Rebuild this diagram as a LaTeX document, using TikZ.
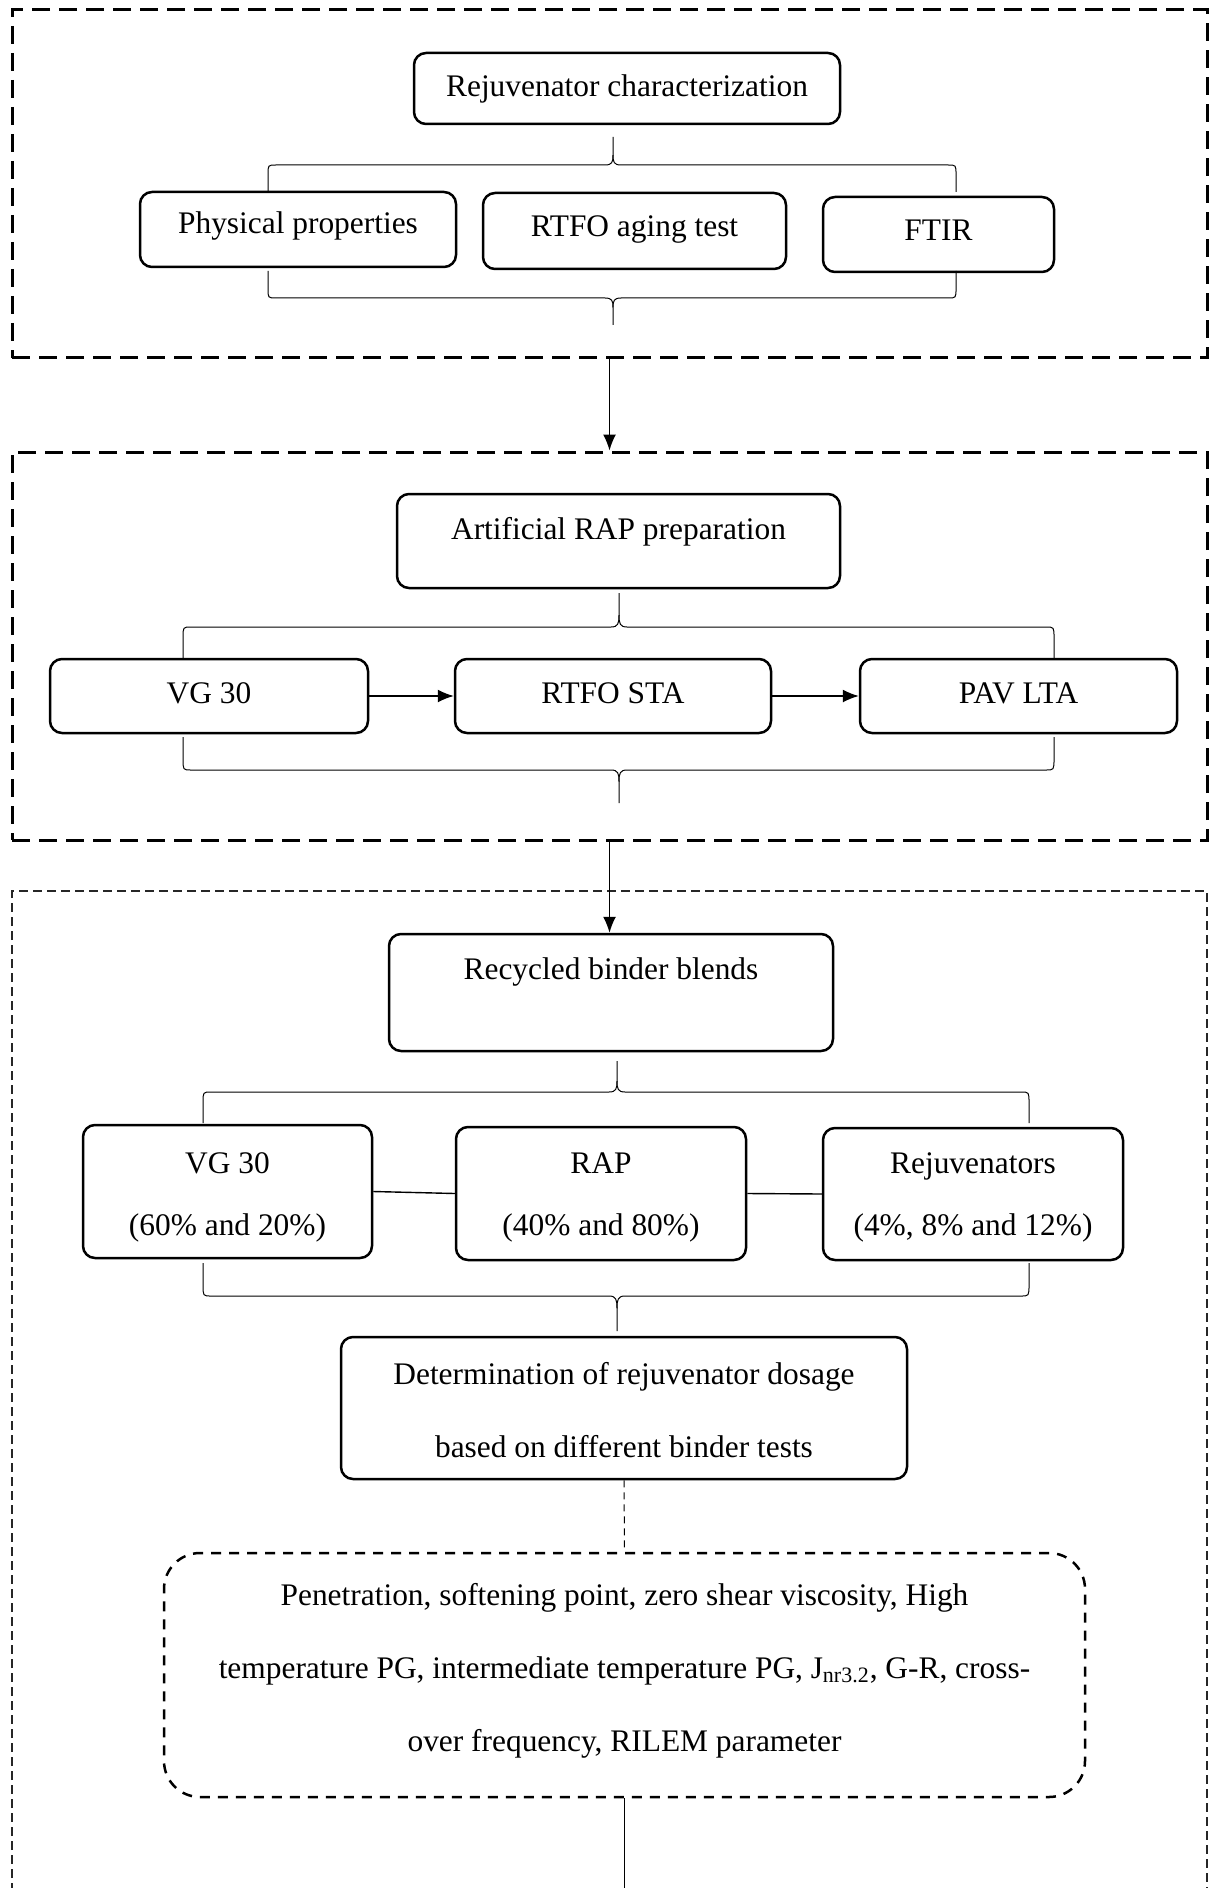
\documentclass[tikz,border=0pt]{standalone}
\usepackage{fontspec}
\setmainfont{Liberation Serif}
\usetikzlibrary{arrows.meta}
\newcommand\fsz{\fontsize{15.7}{19}\selectfont}
\newcommand\hbrace[6]{%
  \draw[brc] ({#1},{#4+(#5)}) -- ({#1},{#4+0.35*(#5)}) .. controls ({#1},{#4}) .. ({#1+8},{#4})
    -- ({#2-8},{#4}) .. controls ({#2-1},{#4}) and ({#2},{#4+0.1*(#6)}) .. ({#2},{#4+0.35*(#6)}) -- ({#2},{#4+(#6)});
  \draw[brc] ({#3},{#4+(#5)}) -- ({#3},{#4+0.35*(#5)}) .. controls ({#3},{#4}) .. ({#3-8},{#4})
    -- ({#2+8},{#4}) .. controls ({#2+1},{#4}) and ({#2},{#4+0.1*(#6)}) .. ({#2},{#4+0.35*(#6)});
}
\begin{document}
\begin{tikzpicture}[x=0.5pt,y=-0.5pt,
  box/.style={draw, rounded corners=6pt, line width=1.25pt, inner sep=0pt},
  grp/.style={draw, line width=1.5pt, dash pattern=on 9pt off 4.5pt, inner sep=0pt},
  txt/.style={inner sep=0pt, anchor=base, font=\fsz},
  brc/.style={line width=0.5pt},
  conn/.style={line width=0.7pt},
  arr/.style={line width=0.7pt, -{Latex[length=8pt,width=6.5pt]}}]
\useasboundingbox (0,0) rectangle (1209,1888);

% group frames
\node[grp, minimum width=597.5pt, minimum height=174pt] (g1) at (609.5,184) {};
\node[grp, minimum width=597.5pt, minimum height=194pt] (g2) at (609.5,646) {};
\draw[line width=0.6pt, black!85, dash pattern=on 4.5pt off 2.5pt] (12,1892) -- (12,891) -- (1207,891) -- (1207,1892);

% section 1
\node[box, minimum width=213pt, minimum height=35.5pt] (rc) at (627,88.5) {};
\node[txt] (rcT) at (627,97) {Rejuvenator characterization};
\node[box, minimum width=158pt, minimum height=37.5pt] (pp) at (298,229.5) {};
\node[txt] (ppT) at (298,234) {Physical properties};
\node[box, minimum width=151.5pt, minimum height=38pt] (rat) at (634.5,231) {};
\node[txt] (ratT) at (634.5,237) {RTFO aging test};
\node[box, minimum width=115.5pt, minimum height=37.5pt] (ftir) at (938.5,234.5) {};
\node[txt] (ftirT) at (938.5,241) {FTIR};
\hbrace{268}{613}{956}{165}{27}{-28}
\hbrace{268}{613}{956}{298}{-27}{27}

% section 2
\node[box, minimum width=221.5pt, minimum height=47pt] (arp) at (618.5,541) {};
\node[txt] (arpT) at (618.5,539) {Artificial RAP preparation};
\node[box, minimum width=159pt, minimum height=37pt] (vga) at (209,696) {};
\node[txt] (vgaT) at (209,703) {VG 30};
\node[box, minimum width=158pt, minimum height=37pt] (sta) at (613,696) {};
\node[txt] (staT) at (613,703) {RTFO STA};
\node[box, minimum width=158.5pt, minimum height=37pt] (lta) at (1018.5,696) {};
\node[txt] (ltaT) at (1018.5,703) {PAV LTA};
\hbrace{183}{619}{1054}{627}{31}{-34}
\hbrace{183}{619}{1054}{770}{-33}{33}
\draw[arr] (vga.east) -- (sta.west);
\draw[arr] (sta.east) -- (lta.west);

% section 3
\node[box, minimum width=222pt, minimum height=58.5pt] (rbb) at (611,992.5) {};
\node[txt] (rbbT) at (611,979) {Recycled binder blends};
\node[box, minimum width=144.5pt, minimum height=66.5pt] (vgb) at (227.5,1191.5) {};
\node[txt] (vgbT1) at (227.5,1173) {VG 30};
\node[txt] (vgbT2) at (227.5,1235) {(60\% and 20\%)};
\node[box, minimum width=145pt, minimum height=66.5pt] (rap) at (601,1193.5) {};
\node[txt] (rapT1) at (601,1173) {RAP};
\node[txt] (rapT2) at (601,1235) {(40\% and 80\%)};
\node[box, minimum width=150pt, minimum height=66pt] (rej) at (973,1194) {};
\node[txt] (rejT1) at (973,1173) {Rejuvenators};
\node[txt] (rejT2) at (973,1235) {(4\%, 8\% and 12\%)};
\hbrace{203}{617}{1029}{1092}{31}{-31}
\hbrace{203}{617}{1029}{1296}{-33}{35}
\draw[conn] (vgb.east) -- (rap.west);
\draw[conn] (rap.east) -- (rej.west);

\node[box, minimum width=283pt, minimum height=71pt] (det) at (624,1408) {};
\node[txt] (detT1) at (624,1384) {Determination of rejuvenator dosage};
\node[txt] (detT2) at (624,1457) {based on different binder tests};

\node[draw, rounded corners=18pt, line width=1.25pt, dash pattern=on 5pt off 4pt, inner sep=0pt,
      minimum width=460.5pt, minimum height=122pt] (tests) at (624.5,1675) {};
\node[txt] (tT1) at (624.5,1605) {Penetration, softening point, zero shear viscosity, High};
\node[txt] (tT2) at (624.5,1678) {temperature PG, intermediate temperature PG, J\textsubscript{nr3.2}, G-R, cross-};
\node[txt] (tT3) at (624.5,1751) {over frequency, RILEM parameter};

% connectors between sections
\draw[arr] (g1.south) -- (g2.north);
\draw[arr] (g2.south) -- (g2.south |- rbb.north);
\draw[line width=0.5pt, dash pattern=on 3.5pt off 2.5pt] (det.south) -- (tests.north);
\coordinate (endpt) at (623,1890);
\draw[conn] (tests.south) -- (tests.south |- endpt);
\end{tikzpicture}
\end{document}
